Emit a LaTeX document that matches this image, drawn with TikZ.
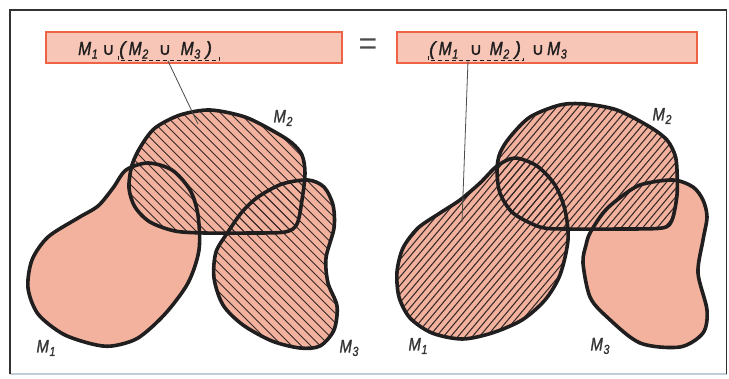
\documentclass[tikz,border=0pt]{standalone}
\usepackage{fontspec}
\setmainfont{Liberation Sans}
\newfontfamily\lettf[FakeBold=1.6]{Liberation Sans}
\newfontfamily\cupf[FakeBold=1.2]{DejaVu Sans}
\usetikzlibrary{calc}
\definecolor{blob}{RGB}{242,178,158}
\definecolor{boxfill}{RGB}{247,198,182}
\definecolor{boxline}{RGB}{238,98,70}
\definecolor{outl}{RGB}{32,30,30}
\definecolor{hatchc}{RGB}{55,40,40}
\definecolor{framec}{RGB}{50,50,50}
\definecolor{framelow}{RGB}{190,205,215}
\newcommand\Mx[1]{\scalebox{0.82}[1]{M\kern0.8pt\raisebox{-3.5pt}{\fontsize{13}{13}\selectfont #1}}}
\newcommand\un{{\cupf\upshape\fontsize{17}{17}\selectfont ∪}}
\newcommand\tok[2]{\makebox[#1pt][l]{#2}}
\def\MoneL{plot[smooth cycle] coordinates {(112,346) (92,344) (63,334) (38,314) (28,288) (32,260) (48,237) (78,218) (98,206) (113,188) (126,170) (148,163) (172,170) (190,190) (198,215) (199,250) (188,283) (165,314) (138,338)}}
\def\MtwoL{plot[smooth cycle] coordinates {(210,110) (180,115) (155,128) (141,146) (132,165) (129,188) (135,207) (150,222) (175,231) (205,233) (250,233) (285,232) (297,224) (302,200) (305,173) (302,155) (292,143) (275,132) (245,117)}}
\def\MthreeL{plot[smooth cycle] coordinates {(228,232) (242,212) (258,197) (282,184) (308,180) (324,187) (333,205) (334,228) (326,258) (328,283) (337,306) (334,330) (320,346) (300,348) (272,341) (243,325) (223,305) (214,278) (216,252)}}
\def\MoneR{plot[smooth cycle] coordinates {(462,339) (432,333) (410,318) (399,297) (397,272) (403,248) (418,228) (440,213) (460,200) (480,183) (497,166) (515,158) (537,166) (555,185) (565,210) (568,240) (560,275) (545,300) (522,320) (492,333)}}
\def\MtwoR{plot[smooth cycle] coordinates {(560,105) (530,117) (510,137) (500,153) (497,170) (500,193) (513,213) (540,227) (565,229) (620,229) (662,228) (672,220) (677,195) (677,170) (675,155) (667,140) (650,127) (617,110) (585,104)}}
\def\MthreeR{plot[smooth cycle] coordinates {(590,233) (603,213) (617,200) (640,185) (673,180) (693,187) (703,200) (707,217) (703,240) (698,273) (707,310) (703,333) (680,347) (640,343) (607,317) (590,297) (583,263) (586,245)}}
\tikzset{
  blobfill/.style={fill=blob},
  outline/.style={draw=outl,line width=3.6pt,line join=round},
  hatch/.style={draw=hatchc,line width=1.05pt},
  formbox/.style={draw=boxline,fill=boxfill,line width=1.4pt},
  formtext/.style={font=\lettf\fontsize{19}{19}\selectfont\itshape,text=outl,inner sep=0pt},
  setlabel/.style={font=\lettf\fontsize{18}{18}\selectfont\itshape,text=outl!90,inner sep=0pt},
  bracket/.style={draw=outl,line width=1pt,dash pattern=on 4pt off 3pt},
  leader/.style={draw=outl!80,line width=0.8pt},
}
\begin{document}
\begin{tikzpicture}[x=1pt,y=-1pt]
\useasboundingbox (0,0) rectangle (729,378);
% frame
\draw[framelow,line width=1.6pt] (10,374) -- (726.5,374);
\draw[framec,line width=1.8pt] (10,374) -- (10,10) -- (726.5,10) -- (726.5,374);
% formula boxes
\node[formbox,minimum width=296pt,minimum height=31pt,inner sep=0pt] (boxL) at (194,47.5) {};
\node[formbox,minimum width=300pt,minimum height=31pt,inner sep=0pt] (boxR) at (547,47.5) {};
\node[formtext,anchor=base west] (txtL) at (78,55) {\tok{24}{\Mx{1}}\tok{17}{\un}\tok{9.5}{(}\tok{30}{\Mx{2}}\tok{22}{\un}\tok{25}{\Mx{3}})};
\node[formtext,anchor=base west] (txtR) at (429,55) {\tok{9.5}{(}\tok{31}{\Mx{1}}\tok{20}{\un}\tok{25}{\Mx{2}}\tok{17}{)}\tok{15.5}{\un}\Mx{3}};
\node[font=\fontsize{32}{32}\selectfont,text=outl!80,inner sep=0pt] (eq) at (368,47) {=};
% dashed brackets
\coordinate (bLa) at (118,56); \coordinate (bLb) at (118,60.5); \coordinate (bLc) at (219,60.5); \coordinate (bLd) at (219,56);
\draw[bracket] (bLa) -- (bLb) -- (bLc) -- (bLd);
\coordinate (bRa) at (428,56); \coordinate (bRb) at (428,60.5); \coordinate (bRc) at (523,60.5); \coordinate (bRd) at (523,56);
\draw[bracket] (bRa) -- (bRb) -- (bRc) -- (bRd);
% fills
\path[blobfill] \MoneL; \path[blobfill] \MtwoL; \path[blobfill] \MthreeL;
\path[blobfill] \MoneR; \path[blobfill] \MtwoR; \path[blobfill] \MthreeR;
% hatching left: M2, M3
\begin{scope}
\clip \MtwoL;
\foreach \c in {-320,-310.5,...,300} \draw[hatch] (\c,0) -- (\c+420,420);
\end{scope}
\begin{scope}
\clip \MthreeL;
\foreach \c in {-320,-310.5,...,300} \draw[hatch] (\c,0) -- (\c+420,420);
\end{scope}
% hatching right: M1, M2
\begin{scope}
\clip \MoneR;
\foreach \c in {100,107.2,...,720} \draw[hatch] (\c,420) -- (\c+352,0);
\end{scope}
\begin{scope}
\clip \MtwoR;
\foreach \c in {100,107.2,...,720} \draw[hatch] (\c,420) -- (\c+352,0);
\end{scope}
% outlines
\path[outline] \MoneL; \path[outline] \MtwoL; \path[outline] \MthreeL;
\path[outline] \MoneR; \path[outline] \MtwoR; \path[outline] \MthreeR;
% leader lines
\coordinate (lLs) at (168,61); \coordinate (lLe) at (198,124);
\draw[leader] (lLs) -- (lLe);
\coordinate (lRs) at (468,61); \coordinate (lRe) at (462,222);
\draw[leader] (lRs) -- (lRe);
% labels
\node[setlabel] (m1L) at (46,348) {\Mx{1}};
\node[setlabel] (m2L) at (283,118) {\Mx{2}};
\node[setlabel] (m3L) at (349,348) {\Mx{3}};
\node[setlabel] (m1R) at (418,346) {\Mx{1}};
\node[setlabel] (m2R) at (662,116) {\Mx{2}};
\node[setlabel] (m3R) at (600,346) {\Mx{3}};
\end{tikzpicture}
\end{document}
